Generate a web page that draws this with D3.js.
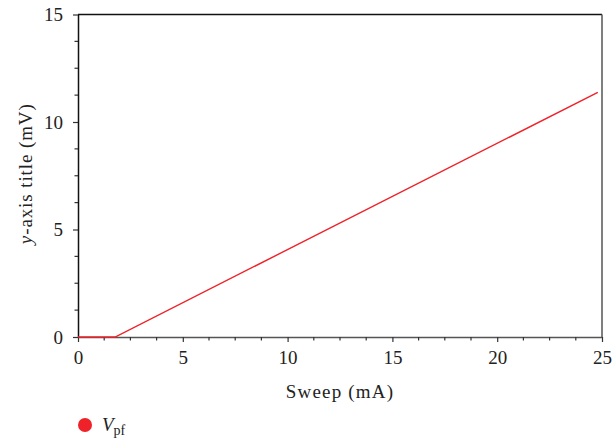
<!DOCTYPE html>
<html><head><meta charset="utf-8">
<script src="https://cdn.jsdelivr.net/npm/d3@7"></script>
<style>
html,body{margin:0;padding:0;background:#fff;}
text{font-family:"Liberation Serif","Times New Roman",serif;fill:#222;}
</style></head>
<body>
<svg id="chart" width="613" height="442"></svg>
<script>
const sweep = [0, 1.77, 24.8];
const vpf = [0, 0, 11.38];
const xTicks = [0, 5, 10, 15, 20, 25];
const yTicks = [0, 5, 10, 15];
const seriesName = "V";
const seriesSub = "pf";
const xTitle = "Sweep (mA)";
const yTitleItalic = "y";
const yTitleRest = "-axis title (mV)";

const svg = d3.select("#chart");
const L = 78, R = 602, T = 14.5, B = 337;
const x = d3.scaleLinear().domain([0, 25]).range([L, R]);
const y = d3.scaleLinear().domain([0, 15]).range([B, T]);

// minor ticks
const xMinor = d3.range(0, 25.001, 1.25).filter(v => !xTicks.includes(v));
const yMinor = d3.range(0, 15.001, 1.25).filter(v => !yTicks.includes(v));

const g = svg.append("g");
// frame: top and right
g.append("line").attr("x1", L).attr("x2", R).attr("y1", T).attr("y2", T).attr("stroke", "#111").attr("stroke-width", 1.5);
g.append("line").attr("x1", R).attr("x2", R).attr("y1", T).attr("y2", B).attr("stroke", "#555").attr("stroke-width", 1.5);

// x axis
const xAxis = g.append("g").attr("transform", `translate(0,${B})`)
  .call(d3.axisBottom(x).tickValues(xTicks).tickSize(5).tickSizeOuter(0).tickPadding(9));
xAxis.select(".domain").attr("stroke", "#555").attr("stroke-width", 1.5);
xAxis.selectAll(".tick line").attr("stroke", "#333").attr("stroke-width", 1.2);
xAxis.selectAll("text").attr("font-size", 19).attr("fill", "#222").attr("font-family", "Liberation Serif");
xAxis.selectAll(".minor").data(xMinor).enter().append("line")
  .attr("x1", d => x(d)).attr("x2", d => x(d)).attr("y1", 0).attr("y2", 3.5)
  .attr("stroke", "#333").attr("stroke-width", 1.2);

// y axis
const yAxis = g.append("g").attr("transform", `translate(${L},0)`)
  .call(d3.axisLeft(y).tickValues(yTicks).tickSize(5).tickSizeOuter(0).tickPadding(10));
yAxis.select(".domain").attr("stroke", "#111").attr("stroke-width", 1.5);
yAxis.selectAll(".tick line").attr("stroke", "#333").attr("stroke-width", 1.2);
yAxis.selectAll("text").attr("font-size", 19).attr("fill", "#222").attr("font-family", "Liberation Serif");
yAxis.selectAll(".minor").data(yMinor).enter().append("line")
  .attr("y1", d => y(d)).attr("y2", d => y(d)).attr("x1", 0).attr("x2", -3.5)
  .attr("stroke", "#333").attr("stroke-width", 1.2);

// series line
const pts = sweep.map((s, i) => [s, vpf[i]]);
svg.append("path").datum(pts)
  .attr("fill", "none").attr("stroke", "#ee2228").attr("stroke-width", 1.4)
  .attr("d", d3.line().x(d => x(d[0])).y(d => y(d[1])));

// titles
svg.append("text").attr("x", (L + R) / 2).attr("y", 398).attr("text-anchor", "middle")
  .attr("font-size", 19).attr("letter-spacing", 1.2).text(xTitle);
const yt = svg.append("text").attr("transform", `translate(32,${(T + B) / 2 - 2}) rotate(-90)`)
  .attr("text-anchor", "middle").attr("font-size", 19).attr("letter-spacing", 0.9);
yt.append("tspan").attr("font-style", "italic").text(yTitleItalic);
yt.append("tspan").text(yTitleRest);

// legend
svg.append("circle").attr("cx", 85).attr("cy", 425).attr("r", 7).attr("fill", "#ee2228");
const lt = svg.append("text").attr("x", 102).attr("y", 431).attr("font-size", 19);
lt.append("tspan").attr("font-style", "italic").text(seriesName);
lt.append("tspan").attr("font-size", 14).attr("dy", 4).text(seriesSub);
</script>
</body></html>
